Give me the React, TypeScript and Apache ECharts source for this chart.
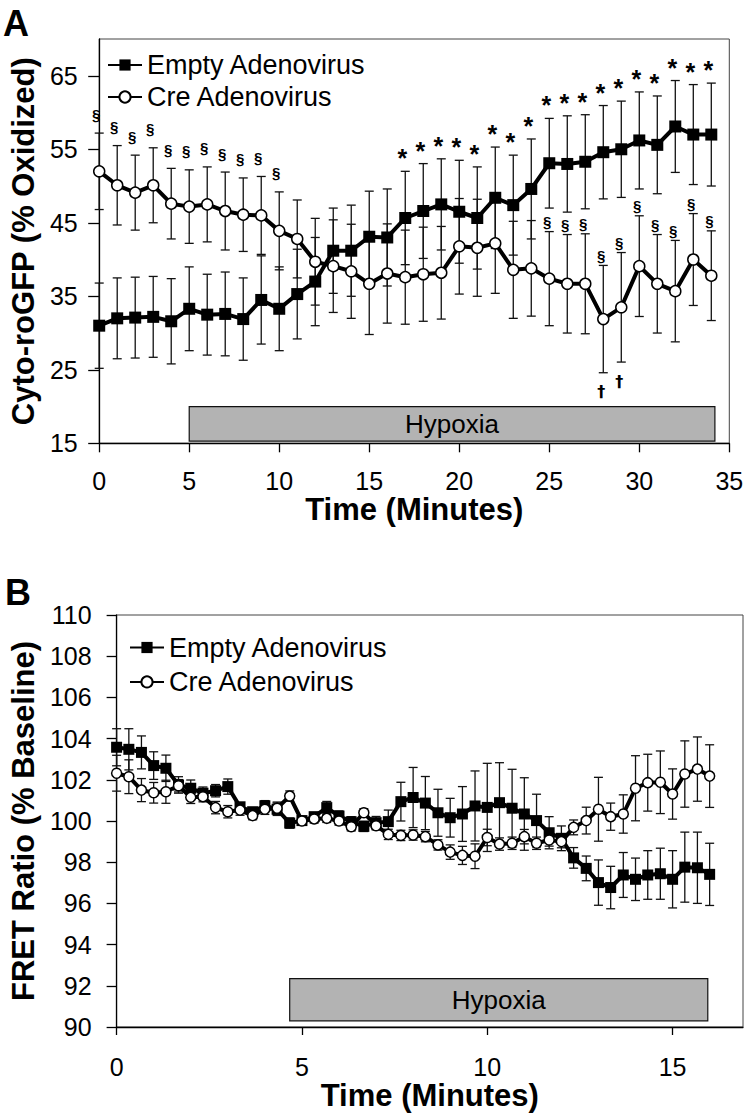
import { useEffect, useRef } from 'react';
import * as echarts from 'echarts';

const FONT = "'Liberation Sans', Arial, Helvetica, sans-serif";

// ---------- Panel A data ----------
const timeA = [0, 1, 2, 3, 4, 5, 6, 7, 8, 9, 10, 11, 12, 13, 14, 15, 16, 17, 18, 19, 20, 21, 22, 23, 24, 25, 26, 27, 28, 29, 30, 31, 32, 33, 34];
const emptyA = [31.0, 32.0, 32.1, 32.2, 31.6, 33.3, 32.5, 32.6, 31.9, 34.5, 33.3, 35.3, 37.0, 41.2, 41.2, 43.1, 43.0, 45.65, 46.6, 47.5, 46.5, 45.65, 48.4, 47.4, 49.6, 53.1, 53.0, 53.3, 54.6, 55.0, 56.2, 55.6, 58.1, 57.0, 57.0];
const emptyErrA = [5.8, 5.5, 5.5, 5.5, 5.8, 5.7, 5.5, 5.7, 5.6, 6.0, 5.7, 6.1, 6.0, 5.8, 6.2, 6.2, 6.6, 6.35, 6.45, 6.2, 7.0, 6.95, 6.9, 6.8, 6.8, 6.1, 6.55, 6.4, 6.35, 6.55, 6.6, 6.65, 6.25, 6.8, 7.0];
const creA = [52.0, 50.1, 49.1, 50.1, 47.6, 47.2, 47.5, 46.6, 46.1, 46.0, 43.9, 42.8, 39.7, 39.1, 38.4, 36.7, 38.1, 37.6, 38.0, 38.2, 41.8, 41.6, 42.2, 38.6, 38.8, 37.4, 36.7, 36.7, 31.9, 33.5, 39.1, 36.7, 35.7, 40.0, 37.8];
const creErrA = [5.2, 5.4, 5.1, 5.1, 4.8, 5.0, 5.1, 5.3, 5.0, 5.3, 5.3, 5.3, 5.9, 6.3, 6.4, 6.9, 6.75, 6.4, 6.4, 6.3, 6.5, 6.6, 6.8, 6.6, 6.5, 6.4, 6.7, 6.8, 7.3, 7.45, 6.85, 6.7, 6.9, 6.25, 6.1];
const starIdxA = [17, 18, 19, 20, 21, 22, 23, 24, 25, 26, 27, 28, 29, 30, 31, 32, 33, 34];
const secEarlyIdxA = [0, 1, 2, 3, 4, 5, 6, 7, 8, 9, 10];
const secLateIdxA = [25, 26, 27, 28, 29, 30, 31, 32, 33, 34];
const daggerIdxA = [28, 29];
const hypoxiaXA = [5, 34.2];
const hypoxiaYA = [15.3, 20];
const yTicksA = [15, 25, 35, 45, 55, 65];

// ---------- Panel B data ----------
const timeB = [0, 0.33, 0.67, 1, 1.33, 1.67, 2, 2.33, 2.67, 3, 3.33, 3.67, 4, 4.33, 4.67, 5, 5.33, 5.67, 6, 6.33, 6.67, 7, 7.33, 7.67, 8, 8.33, 8.67, 9, 9.33, 9.67, 10, 10.33, 10.67, 11, 11.33, 11.67, 12, 12.33, 12.67, 13, 13.33, 13.67, 14, 14.33, 14.67, 15, 15.33, 15.67, 16];
const emptyB = [103.58, 103.48, 103.33, 102.69, 102.56, 101.75, 101.59, 101.35, 101.47, 101.67, 100.69, 100.45, 100.74, 100.57, 99.9, 100.02, 100.21, 100.65, 100.24, 99.96, 99.74, 99.92, 99.97, 100.94, 101.14, 100.87, 100.4, 100.16, 100.34, 100.73, 100.66, 100.89, 100.62, 100.34, 100.02, 99.43, 99.16, 98.21, 97.7, 97.01, 96.77, 97.38, 97.17, 97.38, 97.44, 97.17, 97.76, 97.73, 97.41];
const emptyErrB = [0.9, 1.0, 0.8, 0.67, 0.64, 0.4, 0.4, 0.3, 0.3, 0.37, 0.2, 0.2, 0.25, 0.3, 0.25, 0.2, 0.2, 0.3, 0.25, 0.25, 0.25, 0.3, 0.56, 0.94, 1.46, 1.29, 1.14, 0.94, 1.33, 1.7, 2.14, 1.94, 1.89, 1.76, 1.28, 0.78, 0.6, 0.5, 0.6, 1.1, 1.03, 1.09, 1.03, 1.18, 1.24, 1.39, 1.7, 1.73, 1.51];
const creB = [102.32, 102.15, 101.5, 101.37, 101.42, 101.71, 101.15, 101.18, 100.65, 100.45, 100.53, 100.26, 100.57, 100.62, 101.21, 100.0, 100.1, 100.13, 100.0, 99.72, 100.4, 99.77, 99.35, 99.3, 99.32, 99.24, 98.84, 98.49, 98.33, 98.29, 99.2, 98.88, 98.92, 99.24, 98.92, 99.08, 99.0, 99.69, 100.02, 100.57, 100.21, 100.34, 101.59, 101.86, 101.88, 101.31, 102.28, 102.52, 102.18];
const creErrB = [0.87, 0.82, 0.56, 0.5, 0.56, 0.3, 0.3, 0.25, 0.3, 0.3, 0.25, 0.2, 0.25, 0.3, 0.25, 0.2, 0.2, 0.2, 0.2, 0.2, 0.2, 0.2, 0.25, 0.25, 0.25, 0.25, 0.25, 0.35, 0.44, 0.6, 0.4, 0.3, 0.3, 0.35, 0.3, 0.3, 0.3, 0.36, 0.65, 1.55, 0.66, 0.93, 1.58, 1.38, 1.52, 1.22, 1.61, 1.56, 1.52];
const hypoxiaXB = [4.67, 15.95];
const hypoxiaYB = [90.3, 92.35];
const xTicksB = [0, 5, 10, 15];

const seriesNames = ['Empty Adenovirus', 'Cre Adenovirus'];

const errData = (t: number[], m: number[], e: number[]) => t.map((x, i) => [x, m[i], e[i]]);
const pairs = (t: number[], m: number[]) => t.map((x, i) => [x, m[i]]);
const pick = (idx: number[], t: number[], m: number[], e: number[], sign: number) =>
  idx.map((i) => [t[i], m[i] + sign * e[i]]);

const errRender = (cap: number) => (_p: any, api: any) => {
  const x = api.value(0);
  const m = api.value(1);
  const e = api.value(2);
  const hi = api.coord([x, m + e]);
  const lo = api.coord([x, m - e]);
  const st = { stroke: '#111', lineWidth: 1.3 };
  return {
    type: 'group',
    children: [
      { type: 'line', shape: { x1: hi[0], y1: hi[1], x2: lo[0], y2: lo[1] }, style: st },
      { type: 'line', shape: { x1: hi[0] - cap, y1: hi[1], x2: hi[0] + cap, y2: hi[1] }, style: st },
      { type: 'line', shape: { x1: lo[0] - cap, y1: lo[1], x2: lo[0] + cap, y2: lo[1] }, style: st },
    ],
  };
};

const markRender = (text: string, font: string, dx: number, dy: number) => (_p: any, api: any) => {
  const p = api.coord([api.value(0), api.value(1)]);
  return {
    type: 'text',
    x: p[0] + dx,
    y: p[1] + dy,
    style: {
      text,
      fill: '#000',
      font,
      align: 'center',
      verticalAlign: 'middle',
    },
  };
};

function makeXAxis(grid: number, min: number, max: number, interval: number, gap: number, margin: number, tickLen: number, custom?: number[]) {
  return {
    gridIndex: grid,
    type: 'value',
    min,
    max,
    interval,
    name: 'Time (Minutes)',
    nameLocation: 'middle',
    nameGap: gap,
    nameTextStyle: { fontSize: 31, fontWeight: 'bold', color: '#000', fontFamily: FONT },
    axisLine: { show: true, onZero: false, lineStyle: { color: '#000', width: 1.3 } },
    axisTick: { show: true, length: tickLen, lineStyle: { color: '#000', width: 1.3 }, ...(custom ? { customValues: custom } : {}) },
    axisLabel: { fontSize: 25, color: '#000', margin, fontFamily: FONT, ...(custom ? { customValues: custom } : {}) },
    splitLine: { show: false },
  };
}

function makeYAxis(grid: number, name: string, min: number, max: number, interval: number, gap: number, margin: number, tickLen: number, custom?: number[]) {
  return {
    gridIndex: grid,
    type: 'value',
    min,
    max,
    interval,
    name,
    nameLocation: 'middle',
    nameGap: gap,
    nameTextStyle: { fontSize: 31, fontWeight: 'bold', color: '#000', fontFamily: FONT },
    axisLine: { show: true, onZero: false, lineStyle: { color: '#000', width: 1.3 } },
    axisTick: { show: true, length: tickLen, lineStyle: { color: '#000', width: 1.3 }, ...(custom ? { customValues: custom } : {}) },
    axisLabel: { fontSize: 25, color: '#000', margin, fontFamily: FONT, ...(custom ? { customValues: custom } : {}) },
    splitLine: { show: false },
  };
}

function lineSeries(name: string, axis: number, data: number[][], filled: boolean, size: number, hyp?: { x: number[]; y: number[] }) {
  const s: any = {
    type: 'line',
    name,
    xAxisIndex: axis,
    yAxisIndex: axis,
    data,
    z: filled ? 3 : 4,
    symbol: filled ? 'rect' : 'circle',
    symbolSize: size,
    showSymbol: true,
    lineStyle: { color: '#000', width: 4 },
    itemStyle: filled ? { color: '#000' } : { color: '#fff', borderColor: '#000', borderWidth: 1.5 },
    emphasis: { disabled: true },
  };
  if (hyp) {
    s.markArea = {
      silent: true,
      itemStyle: { color: '#b3b3b3', borderColor: '#111', borderWidth: 1.2 },
      label: { show: true, position: 'inside', color: '#000', fontSize: 26, fontFamily: FONT },
      data: [[{ name: 'Hypoxia', xAxis: hyp.x[0], yAxis: hyp.y[0] }, { xAxis: hyp.x[1], yAxis: hyp.y[1] }]],
    };
  }
  return s;
}

function customSeries(axis: number, data: number[][], render: any, z: number) {
  return {
    type: 'custom',
    xAxisIndex: axis,
    yAxisIndex: axis,
    data,
    encode: { x: 0, y: 1 },
    renderItem: render,
    z,
    silent: true,
  };
}

function buildOption() {
  const starFont = `bold 25px ${FONT}`;
  const secFont = `bold 15px ${FONT}`;
  const dagFont = `bold 16px 'DejaVu Sans', ${FONT}`;
  return {
    animation: false,
    backgroundColor: '#fff',
    textStyle: { fontFamily: FONT },
    grid: [
      { left: 86.5, top: 39, width: 642.8, height: 404.3, show: true, borderColor: '#444', borderWidth: 1, backgroundColor: 'transparent' },
      { left: 106.7, top: 615, width: 636.3, height: 412, show: true, borderColor: '#444', borderWidth: 1, backgroundColor: 'transparent' },
    ],
    xAxis: [
      makeXAxis(0, 0, 35, 5, 39, 25, 9),
      makeXAxis(1, 0, 16.9, 5, 44, 27, 8, xTicksB),
    ],
    yAxis: [
      makeYAxis(0, 'Cyto-roGFP (% Oxidized)', 15, 70, 5, 50, 21.5, 11, yTicksA),
      makeYAxis(1, 'FRET Ratio (% Baseline)', 90, 110, 2, 70, 25, 10),
    ],
    legend: [
      {
        left: 107, top: 51.5, orient: 'vertical', padding: 0, itemGap: 5, itemWidth: 34, itemHeight: 14,
        data: seriesNames,
        textStyle: { fontSize: 27, lineHeight: 27, color: '#000', fontFamily: FONT },
        selectedMode: false,
      },
      {
        left: 129, top: 634, orient: 'vertical', padding: 0, itemGap: 7.4, itemWidth: 34, itemHeight: 14,
        data: seriesNames,
        textStyle: { fontSize: 27, lineHeight: 27, color: '#000', fontFamily: FONT },
        selectedMode: false,
      },
    ],
    graphic: [
      { type: 'text', left: 3, top: 5, style: { text: 'A', font: `bold 36px ${FONT}`, fill: '#000' } },
      { type: 'text', left: 5, top: 574, style: { text: 'B', font: `bold 36px ${FONT}`, fill: '#000' } },
    ],
    series: [
      customSeries(0, errData(timeA, emptyA, emptyErrA), errRender(4.5), 1),
      customSeries(0, errData(timeA, creA, creErrA), errRender(4.5), 1),
      lineSeries(seriesNames[0], 0, pairs(timeA, emptyA), true, 12, { x: hypoxiaXA, y: hypoxiaYA }),
      lineSeries(seriesNames[1], 0, pairs(timeA, creA), false, 11),
      customSeries(0, pick(starIdxA, timeA, emptyA, emptyErrA, 1), markRender('*', starFont, -3, -13), 6),
      customSeries(0, pick(secEarlyIdxA, timeA, creA, creErrA, 1), markRender('§', secFont, -3, -19), 6),
      customSeries(0, pick(secLateIdxA, timeA, creA, creErrA, 1), markRender('§', secFont, -2, -10), 6),
      customSeries(0, pick(daggerIdxA, timeA, creA, creErrA, -1), markRender('†', dagFont, -2, 19), 6),
      customSeries(1, errData(timeB, emptyB, emptyErrB), errRender(4.5), 1),
      customSeries(1, errData(timeB, creB, creErrB), errRender(4.5), 1),
      lineSeries(seriesNames[0], 1, pairs(timeB, emptyB), true, 11, { x: hypoxiaXB, y: hypoxiaYB }),
      lineSeries(seriesNames[1], 1, pairs(timeB, creB), false, 10),
    ],
  };
}

export default function App() {
  const ref = useRef<HTMLDivElement>(null);
  useEffect(() => {
    const chart = echarts.init(ref.current!, null, { renderer: 'svg' });
    chart.setOption(buildOption() as any);
    return () => chart.dispose();
  }, []);
  return (
    <div
      ref={ref}
      style={{ position: 'fixed', left: 0, top: 0, width: 747, height: 1113, background: '#fff' }}
    />
  );
}
